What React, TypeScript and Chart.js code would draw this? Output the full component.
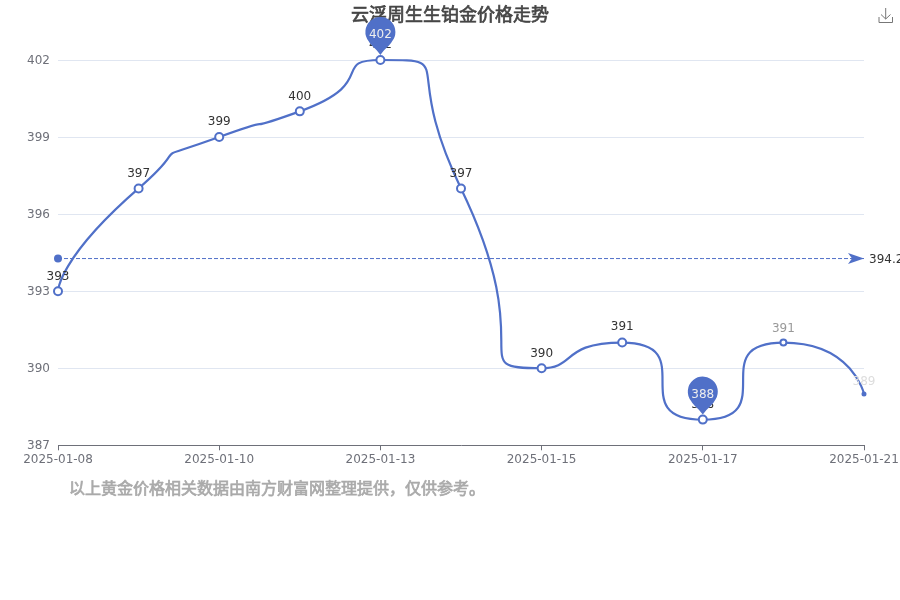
import React, { useEffect, useRef } from 'react';
import { Chart, registerables } from 'chart.js';

Chart.register(...registerables);

const titleText = '云浮周生生铂金价格走势';
const footText = '以上黄金价格相关数据由南方财富网整理提供，仅供参考。';

const categories = [
  '2025-01-08', '2025-01-09', '2025-01-10', '2025-01-11', '2025-01-13', '2025-01-14',
  '2025-01-15', '2025-01-16', '2025-01-17', '2025-01-18', '2025-01-21',
];
const prices = [393, 397, 399, 400, 402, 397, 390, 391, 388, 391, 389];
const average = 394.27;
const averageLine = categories.map(() => average);
const pinIndexes = [4, 8];

const BLUE = '#5070c8';
const FONT = '"DejaVu Sans", "Noto Sans CJK SC", sans-serif';

// per point look of the last two points, they are still fading in on the reference
const pointSizes = [4, 4, 4, 4, 4, 4, 4, 4, 4, 3, 1.5];
const labelColors = ['#333', '#333', '#333', '#333', '#333', '#333', '#333', '#333', '#333', '#999', '#ddd'];
const labelGaps = [14.7, 14.7, 14.7, 14.7, 14.7, 14.7, 14.7, 15.5, 14.7, 14, 12.5];

// control points like the echarts smooth line (smooth = 1)
function setControlPoints(pts: any[]) {
  const smooth = 1;
  pts[0].cp2x = pts[0].x;
  pts[0].cp2y = pts[0].y;
  for (let i = 1; i < pts.length; i++) {
    const { x, y } = pts[i];
    const prev = pts[i - 1];
    const next = pts[i + 1];
    if (!next) {
      pts[i].cp1x = x;
      pts[i].cp1y = y;
      break;
    }
    const lenPrev = Math.hypot(x - prev.x, y - prev.y);
    const lenNext = Math.hypot(next.x - x, next.y - y);
    const ratio = lenNext / (lenNext + lenPrev);
    let vx = next.x - prev.x;
    let vy = next.y - prev.y;
    let nx = x + vx * smooth * ratio;
    let ny = y + vy * smooth * ratio;
    nx = Math.max(Math.min(nx, Math.max(next.x, x)), Math.min(next.x, x));
    ny = Math.max(Math.min(ny, Math.max(next.y, y)), Math.min(next.y, y));
    vx = nx - x;
    vy = ny - y;
    let cx = x - (vx * lenPrev) / lenNext;
    let cy = y - (vy * lenPrev) / lenNext;
    cx = Math.max(Math.min(cx, Math.max(prev.x, x)), Math.min(prev.x, x));
    cy = Math.max(Math.min(cy, Math.max(prev.y, y)), Math.min(prev.y, y));
    vx = x - cx;
    vy = y - cy;
    pts[i].cp1x = cx;
    pts[i].cp1y = cy;
    pts[i].cp2x = x + (vx * lenNext) / lenPrev;
    pts[i].cp2y = y + (vy * lenNext) / lenPrev;
  }
}

const smoothPlugin = {
  id: 'smoothLine',
  beforeDatasetDraw(chart: any, args: any) {
    if (args.index !== 0) return;
    const meta = chart.getDatasetMeta(0);
    meta.dataset.updateControlPoints(chart.chartArea, 'x');
    setControlPoints(meta.data);
  },
};

function drawPin(ctx: CanvasRenderingContext2D, x: number, y: number, text: string) {
  const cy = y - 28;
  const r = 15;
  const tipY = y - 5;
  ctx.beginPath();
  ctx.arc(x, cy, r, Math.PI * 0.78, Math.PI * 0.22);
  ctx.bezierCurveTo(x + 10, cy + 13, x + 5, cy + 16, x, tipY);
  ctx.bezierCurveTo(x - 5, cy + 16, x - 10, cy + 13, x - r * Math.cos(Math.PI * 0.22), cy + r * Math.sin(Math.PI * 0.22));
  ctx.closePath();
  ctx.fillStyle = BLUE;
  ctx.fill();
  ctx.fillStyle = '#eee';
  ctx.font = `12px ${FONT}`;
  ctx.fillText(text, x, cy + 3);
}

// the heading font has no heavy look on the reference, so fill plus a thin stroke
function heavyText(ctx: CanvasRenderingContext2D, text: string, x: number, y: number, color: string) {
  ctx.fillStyle = color;
  ctx.strokeStyle = color;
  ctx.lineWidth = 0.7;
  ctx.fillText(text, x, y);
  ctx.strokeText(text, x, y);
}

const decorPlugin = {
  id: 'decor',
  afterDatasetsDraw(chart: any) {
    const ctx: CanvasRenderingContext2D = chart.ctx;
    const meta = chart.getDatasetMeta(0);
    const yScale = chart.scales.y;
    const area = chart.chartArea;
    ctx.save();

    // title and foot note
    ctx.textBaseline = 'middle';
    ctx.textAlign = 'center';
    ctx.font = `18px ${FONT}`;
    heavyText(ctx, titleText, 450, 16, '#464646');
    ctx.textAlign = 'left';
    ctx.font = `16px ${FONT}`;
    heavyText(ctx, footText, 69, 489.5, '#aaa');

    // average line ends
    const avgY = yScale.getPixelForValue(average);
    ctx.fillStyle = BLUE;
    ctx.beginPath();
    ctx.arc(area.left, avgY, 4, 0, Math.PI * 2);
    ctx.fill();
    ctx.beginPath();
    ctx.moveTo(area.right, avgY);
    ctx.lineTo(area.right - 16, avgY - 5.5);
    ctx.lineTo(area.right - 12, avgY);
    ctx.lineTo(area.right - 16, avgY + 5.5);
    ctx.closePath();
    ctx.fill();
    ctx.textAlign = 'left';
    ctx.font = `12px ${FONT}`;
    ctx.fillStyle = '#333';
    ctx.fillText(String(average), area.right + 5, avgY + 1);

    // value labels
    ctx.textAlign = 'center';
    prices.forEach((v, i) => {
      ctx.fillStyle = labelColors[i];
      ctx.fillText(String(v), meta.data[i].x, meta.data[i].y - labelGaps[i]);
    });

    // max and min pins
    pinIndexes.forEach((i) => drawPin(ctx, meta.data[i].x, meta.data[i].y, String(prices[i])));

    // save icon of the toolbox
    ctx.strokeStyle = '#777';
    ctx.lineWidth = 1;
    ctx.beginPath();
    ctx.moveTo(879, 17);
    ctx.lineTo(879, 22.5);
    ctx.lineTo(892.5, 22.5);
    ctx.lineTo(892.5, 17);
    ctx.moveTo(885.7, 8);
    ctx.lineTo(885.7, 19);
    ctx.moveTo(881, 14.5);
    ctx.lineTo(885.7, 19);
    ctx.lineTo(890.5, 14.5);
    ctx.stroke();
    ctx.restore();
  },
};

const App: React.FC = () => {
  const canvasRef = useRef<HTMLCanvasElement>(null);

  useEffect(() => {
    document.body.style.margin = '0';
    if (!canvasRef.current) return;
    const chart = new Chart(canvasRef.current, {
      type: 'line',
      data: {
        labels: categories,
        datasets: [
          {
            data: prices,
            borderColor: BLUE,
            borderWidth: 2.2,
            tension: 0.4,
            clip: false as any,
            backgroundColor: '#fff',
            pointBackgroundColor: (c: any) => (c.dataIndex === prices.length - 1 ? BLUE : '#fff'),
            pointBorderColor: BLUE,
            pointBorderWidth: 2,
            pointRadius: (c: any) => pointSizes[c.dataIndex],
            order: 0,
          },
          {
            data: averageLine,
            borderColor: BLUE,
            borderWidth: 1,
            borderDash: [4, 2],
            pointRadius: 0,
            order: 1,
          },
        ],
      },
      options: {
        animation: false,
        responsive: false,
        layout: { padding: { top: 60, right: 36, left: 0, bottom: 0 } },
        plugins: { legend: { display: false }, tooltip: { enabled: false } },
        scales: {
          x: {
            type: 'category',
            offset: false,
            afterFit: (s: any) => {
              s.height = 154.7;
              s.paddingLeft = 0;
              s.paddingRight = 0;
            },
            afterBuildTicks: (s: any) => { s.ticks = s.ticks.filter((_: any, i: number) => i % 2 === 0); },
            grid: { drawOnChartArea: false, tickLength: 5, tickColor: '#6E7079', tickWidth: 1 },
            border: { color: '#6E7079', width: 1 },
            ticks: { autoSkip: false, maxRotation: 0, color: '#6E7079', padding: 2, font: { family: FONT, size: 12 } },
          },
          y: {
            min: 387,
            max: 402,
            afterFit: (s: any) => {
              s.width = 58;
              s.paddingTop = 0;
              s.paddingBottom = 0;
            },
            afterBuildTicks: (s: any) => {
              s.ticks = [387, 390, 393, 396, 399, 402].map((value) => ({ value }));
            },
            grid: { color: '#E0E6F1', drawTicks: false, lineWidth: 1 },
            border: { display: false },
            ticks: { color: '#6E7079', padding: 8, labelOffset: 1, font: { family: FONT, size: 12 } },
          },
        },
      },
      plugins: [smoothPlugin, decorPlugin],
    });
    return () => chart.destroy();
  }, []);

  return <canvas ref={canvasRef} width={900} height={600} style={{ display: 'block' }} />;
};

export default App;
